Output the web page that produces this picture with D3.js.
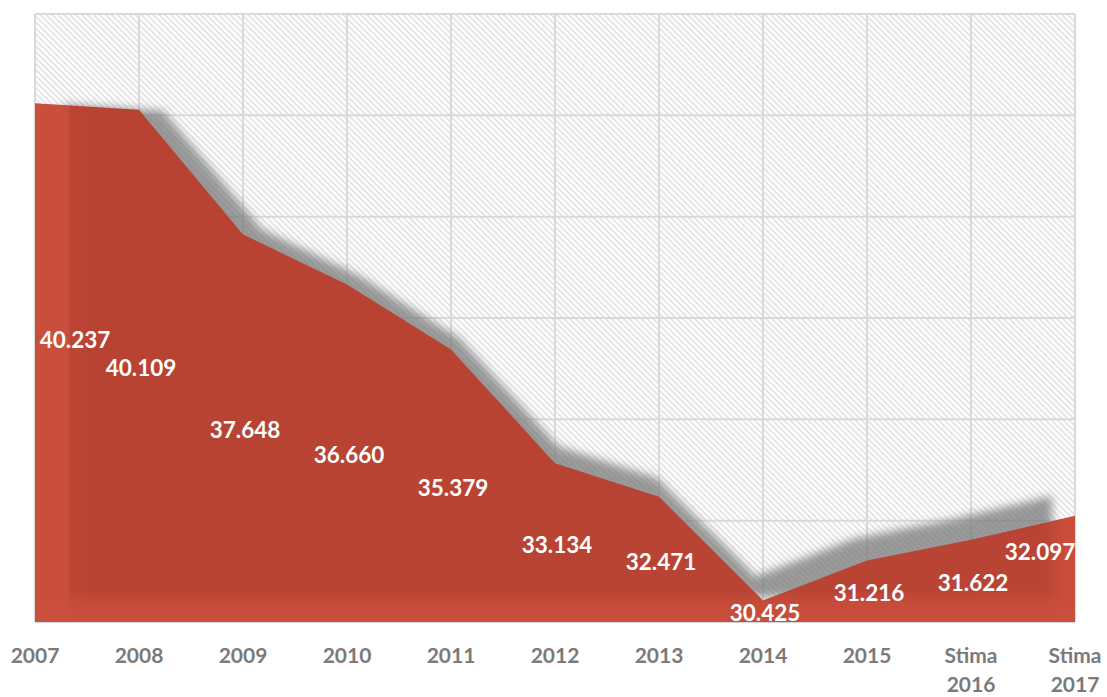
<!DOCTYPE html>
<html>
<head>
<meta charset="utf-8">
<script src="https://cdn.jsdelivr.net/npm/d3@7"></script>
<style>
  body { margin: 0; background: #fff; }
  svg { display: block; }
</style>
</head>
<body>
<svg id="chart" width="1107" height="697"></svg>
<script>
// Chart data
const categories = ["2007", "2008", "2009", "2010", "2011", "2012", "2013", "2014", "2015", "Stima 2016", "Stima 2017"];
const values = [40237, 40109, 37648, 36660, 35379, 33134, 32471, 30425, 31216, 31622, 32097];
const yTicks = [30000, 32000, 34000, 36000, 38000, 40000, 42000];

// Italian number format: 40.237
const it = d3.formatLocale({ decimal: ",", thousands: ".", grouping: [3], currency: ["€", ""] });
const fmt = it.format(",");

const svg = d3.select("#chart"),
      width = +svg.attr("width"),
      height = +svg.attr("height"),
      margin = {top: 14, right: 32, bottom: 75, left: 35};

const data = categories.map((c, i) => ({ cat: c, value: values[i] }));

const x = d3.scalePoint()
    .domain(categories)
    .range([margin.left, width - margin.right]);

const y = d3.scaleLinear()
    .domain([d3.min(yTicks), d3.max(yTicks)])
    .range([height - margin.bottom, margin.top]);

const x0 = x.range()[0], x1 = x.range()[1];
const y0 = y.range()[1], y1 = y.range()[0];

const defs = svg.append("defs");

// diagonal hatch for the plot background
const hatch = defs.append("pattern")
    .attr("id", "hatch")
    .attr("patternUnits", "userSpaceOnUse")
    .attr("width", 4.2)
    .attr("height", 4.2)
    .attr("patternTransform", "rotate(-45)");
hatch.append("rect").attr("width", 4.2).attr("height", 4.2).attr("fill", "#ffffff");
hatch.append("line")
    .attr("x1", 1.2).attr("y1", 0).attr("x2", 1.2).attr("y2", 4.2)
    .attr("stroke", "#dcdcdc").attr("stroke-width", 1.4);

defs.append("clipPath").attr("id", "plotClip")
  .append("rect")
    .attr("x", x0).attr("y", y0)
    .attr("width", x1 - x0).attr("height", y1 - y0);

defs.append("filter").attr("id", "blur")
    .attr("x", "-10%").attr("y", "-10%").attr("width", "120%").attr("height", "120%")
  .append("feGaussianBlur").attr("stdDeviation", 4.5);

// red fill with lighter edges left / right
const gh = defs.append("linearGradient").attr("id", "redH")
    .attr("x1", "0%").attr("x2", "100%").attr("y1", "0%").attr("y2", "0%");
[["0%", "#c94e3c"], ["3.2%", "#c94e3c"], ["3.4%", "#bc4535"], ["6%", "#b84333"],
 ["97%", "#b94434"], ["98.6%", "#c64b3a"], ["100%", "#c94e3c"]]
  .forEach(s => gh.append("stop").attr("offset", s[0]).attr("stop-color", s[1]));

const gv = defs.append("linearGradient").attr("id", "redV")
    .attr("x1", "0%").attr("x2", "0%").attr("y1", "0%").attr("y2", "100%");
[["0%", "#c94e3c", 0], ["94%", "#c94e3c", 0], ["96.5%", "#c94e3c", 0.85], ["100%", "#cb503d", 0.9]]
  .forEach(s => gv.append("stop").attr("offset", s[0]).attr("stop-color", s[1]).attr("stop-opacity", s[2]));

// plot background
svg.append("rect")
    .attr("x", x0).attr("y", y0)
    .attr("width", x1 - x0).attr("height", y1 - y0)
    .attr("fill", "url(#hatch)");

// gridlines
svg.append("g")
    .selectAll("line.h")
    .data(yTicks)
    .join("line")
    .attr("x1", x0).attr("x2", x1)
    .attr("y1", d => y(d)).attr("y2", d => y(d))
    .attr("stroke", "#d9d9d9").attr("stroke-width", 2);

svg.append("g")
    .selectAll("line.v")
    .data(categories)
    .join("line")
    .attr("x1", d => x(d)).attr("x2", d => x(d))
    .attr("y1", y0).attr("y2", y1)
    .attr("stroke", "#d9d9d9").attr("stroke-width", 2);

const area = d3.area()
    .x(d => x(d.cat))
    .y0(y1)
    .y1(d => y(d.value));

// soft perspective shadow behind the area
const cx = (x0 + x1) / 2,
      cy = (y(d3.max(values)) + y1) / 2;
svg.append("g")
    .attr("clip-path", "url(#plotClip)")
  .append("path")
    .datum(data)
    .attr("d", area)
    .attr("fill", "#7a7a7a")
    .attr("opacity", 0.75)
    .attr("filter", "url(#blur)")
    .attr("transform", `translate(${cx + 3},${cy - 12}) scale(0.95) translate(${-cx},${-cy})`);

// the area
svg.append("path")
    .datum(data)
    .attr("d", area)
    .attr("fill", "url(#redH)");

svg.append("path")
    .datum(data)
    .attr("d", area)
    .attr("fill", "url(#redV)");

// data labels, halfway between the value and the baseline
const nudge = { "2007": -25, "Stima 2017": -19 };
svg.append("g")
    .selectAll("text")
    .data(data)
    .join("text")
    .attr("x", (d, i) => i === 0 ? x(d.cat) + 40 : i === data.length - 1 ? x(d.cat) - 35 : x(d.cat) + 2)
    .attr("y", d => (y(d.value) + y1) / 2 + 2 + (nudge[d.cat] || 0))
    .attr("dy", "0.36em")
    .attr("text-anchor", "middle")
    .attr("font-family", "Lato, 'Open Sans', sans-serif")
    .attr("font-weight", 700)
    .attr("font-size", "22.5px")
    .attr("fill", "#ffffff")
    .text(d => fmt(d.value));

// category axis labels
const xLab = svg.append("g")
    .selectAll("text")
    .data(categories)
    .join("text")
    .attr("x", d => x(d))
    .attr("y", 663)
    .attr("text-anchor", "middle")
    .attr("font-family", "Lato, 'Open Sans', sans-serif")
    .attr("font-weight", 700)
    .attr("font-size", "21px")
    .attr("fill", "#7a7a7a");

xLab.each(function(d) {
    const parts = d.split(" ");
    d3.select(this).selectAll("tspan")
        .data(parts)
        .join("tspan")
        .attr("x", x(d))
        .attr("dy", (p, i) => i === 0 ? 0 : 29)
        .text(p => p);
});
</script>
</body>
</html>
